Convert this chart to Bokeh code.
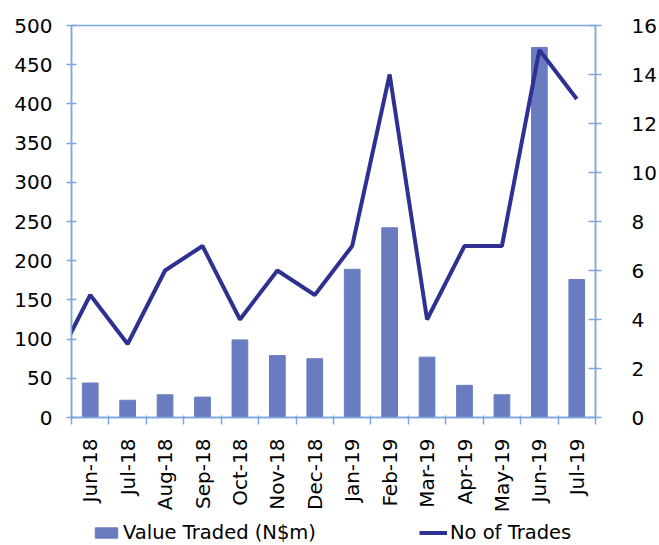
import math
from bokeh.plotting import figure
from bokeh.layouts import column
from bokeh.models import (ColumnDataSource, Range1d, LinearAxis, FixedTicker,
                          Legend, LegendItem)
from bokeh.embed import file_html
from bokeh.resources import INLINE

months = ["Jun-18", "Jul-18", "Aug-18", "Sep-18", "Oct-18", "Nov-18", "Dec-18",
          "Jan-19", "Feb-19", "Mar-19", "Apr-19", "May-19", "Jun-19", "Jul-19"]
value_traded = [44, 22, 29, 26, 99, 79, 75, 189, 242, 77, 41, 29, 472, 176]
no_of_trades = [5, 3, 6, 7, 4, 6, 5, 7, 14, 4, 7, 7, 15, 13]
# previous month (May-18), partly visible at the left edge of the line
prev_month_trades = 2
series_names = ["Value Traded (N$m)", "No of Trades"]

left_ticks = list(range(0, 501, 50))
right_ticks = list(range(0, 17, 2))

FONT = "DejaVu Sans"
AXIS_COLOR = "#7ea6df"
BAR_COLOR = "#6a7cc0"
LINE_COLOR = "#2e3192"

idx = list(range(len(months)))
bar_src = ColumnDataSource(dict(x=idx, v=value_traded))
line_src = ColumnDataSource(dict(x=[-1] + idx, t=[prev_month_trades] + no_of_trades))

p = figure(frame_width=524, frame_height=392, output_backend="svg",
           toolbar_location=None, x_range=Range1d(-0.5, len(months) - 0.5),
           y_range=Range1d(0, 500), min_border_left=71, min_border_top=25,
           min_border_right=50, min_border_bottom=0)
p.extra_y_ranges = {"trades": Range1d(0, 16)}
p.grid.visible = False
p.background_fill_color = "white"
p.border_fill_color = "white"
p.outline_line_color = AXIS_COLOR
p.outline_line_width = 1.5

p.vbar(x="x", top="v", width=0.42, source=bar_src, fill_color=BAR_COLOR,
       line_color=BAR_COLOR)
p.line(x="x", y="t", source=line_src, y_range_name="trades",
       line_color=LINE_COLOR, line_width=4)

# x axis
xa = p.xaxis[0]
xa.ticker = FixedTicker(ticks=idx, minor_ticks=[i - 0.5 for i in range(len(months) + 1)])
xa.major_label_overrides = {i: m for i, m in enumerate(months)}
xa.major_label_orientation = math.pi / 2
xa.major_tick_in = 0
xa.major_tick_out = 0
xa.major_tick_line_color = None
xa.minor_tick_in = 2
xa.minor_tick_out = 7
xa.minor_tick_line_color = AXIS_COLOR
xa.minor_tick_line_width = 1.5
xa.major_label_standoff = 14

# left axis
ya = p.yaxis[0]
ya.ticker = FixedTicker(ticks=left_ticks)
ya.minor_tick_line_color = None
ya.major_tick_in = 5
ya.major_tick_out = 5
ya.major_label_standoff = 14

right = LinearAxis(y_range_name="trades", ticker=FixedTicker(ticks=right_ticks))
right.minor_tick_line_color = None
right.major_tick_in = 7
right.major_tick_out = 6
right.major_label_standoff = 30
p.add_layout(right, "right")

for ax in [xa, ya, right]:
    ax.axis_line_color = AXIS_COLOR
    ax.axis_line_width = 1.5
    ax.major_tick_line_width = 1.5
    ax.major_label_text_font = FONT
    ax.major_label_text_font_size = "20px"
    ax.major_label_text_color = "black"
ya.major_tick_line_color = AXIS_COLOR
right.major_tick_line_color = AXIS_COLOR

# legend strip below the chart (same data, drawn outside its visible range)
lg = figure(width=650, height=34, output_backend="svg", toolbar_location=None,
            x_range=Range1d(-0.5, len(months) - 0.5), y_range=Range1d(1000, 1001),
            x_axis_type=None, y_axis_type=None, min_border=0)
lg.grid.visible = False
lg.outline_line_color = None
lg.background_fill_color = "white"
lg.border_fill_color = "white"
lb = lg.vbar(x="x", top="v", width=0.42, source=bar_src, fill_color=BAR_COLOR,
             line_color=BAR_COLOR)
ll = lg.line(x="x", y="t", source=line_src, line_color=LINE_COLOR, line_width=4)
legend = Legend(items=[LegendItem(label=series_names[0], renderers=[lb]),
                       LegendItem(label=series_names[1], renderers=[ll])],
                orientation="horizontal", location=(21, 5),
                label_text_font=FONT, label_text_font_size="19.5px",
                label_text_color="black", glyph_width=28, glyph_height=13,
                label_height=20, spacing=103, border_line_color=None,
                background_fill_alpha=0, padding=0, margin=0, label_standoff=3)
lg.add_layout(legend, "center")

open("out.html", "w").write(file_html(column(p, lg, spacing=0), INLINE))
